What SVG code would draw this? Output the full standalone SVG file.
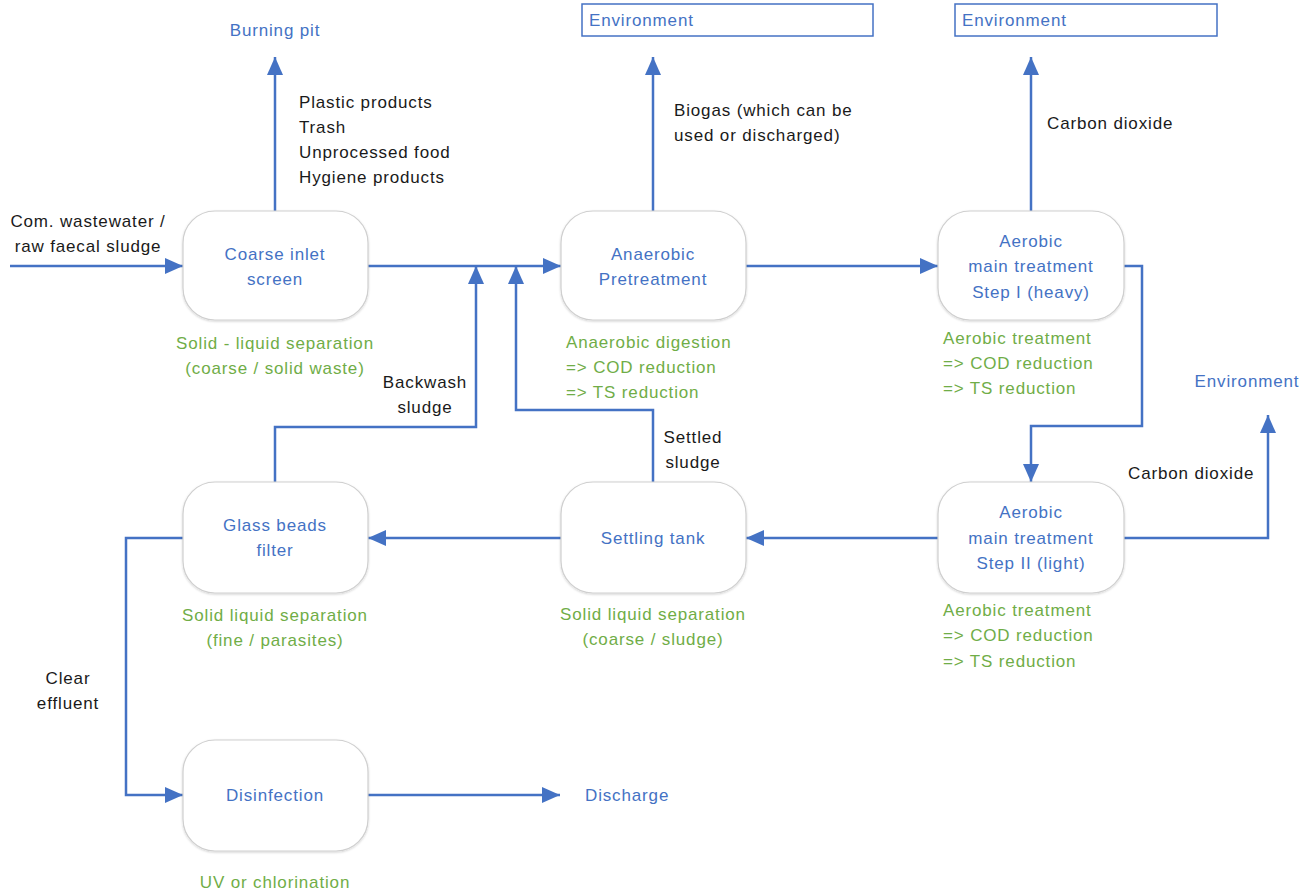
<svg xmlns="http://www.w3.org/2000/svg" width="1316" height="894" viewBox="0 0 1316 894">
<defs>
  <marker id="ah" markerWidth="18" markerHeight="16" viewBox="0 0 18 16" refX="18" refY="8" orient="auto" markerUnits="userSpaceOnUse">
    <path d="M0,0 L18,8 L0,16 Z" fill="#4472C4"/>
  </marker>
  <filter id="sh" x="-10%" y="-10%" width="120%" height="120%">
    <feDropShadow dx="0" dy="1" stdDeviation="1.2" flood-color="#000" flood-opacity="0.18"/>
  </filter>
</defs>
<style>
  text { font-family: "Liberation Sans", Arial, sans-serif; font-size: 17px; letter-spacing: 0.85px; dominant-baseline: central; }
  .box { fill: #fff; stroke: #cfcfcf; stroke-width: 1.2; filter: url(#sh); }
  .blue { fill: #4472C4; }
  .green { fill: #70AD47; }
  .black { fill: #1a1a1a; }
  .c { text-anchor: middle; }
  .conn path { fill: none; stroke: #4472C4; stroke-width: 2.5; marker-end: url(#ah); }
  .env { fill: #fff; stroke: #4472C4; stroke-width: 1.5; }
</style>
<rect width="1316" height="894" fill="#fff"/>

<g id="connectors" class="conn">
  <path d="M10,266 H183"/>
  <path d="M275,211 V57"/>
  <path d="M368,266 H561"/>
  <path d="M275,482 V427 H476 V266"/>
  <path d="M653,482 V410 H516 V266"/>
  <path d="M653,211 V57"/>
  <path d="M746,266 H938"/>
  <path d="M1031,211 V57"/>
  <path d="M1124,266 H1142 V426 H1031 V482"/>
  <path d="M1124,538 H1268 V415"/>
  <path d="M938,538 H746"/>
  <path d="M561,538 H368"/>
  <path d="M183,538 H126 V795 H183"/>
  <path d="M368,795 H560"/>
</g>

<g id="input-label">
  <text class="black c" x="88" y="221">Com. wastewater /</text>
  <text class="black c" x="88" y="246">raw faecal sludge</text>
</g>

<g id="burning-pit">
  <text class="blue c" x="275" y="30">Burning pit</text>
</g>
<g id="solid-waste-label">
  <text class="black" x="299" y="102">Plastic products</text>
  <text class="black" x="299" y="127">Trash</text>
  <text class="black" x="299" y="152">Unprocessed food</text>
  <text class="black" x="299" y="177">Hygiene products</text>
</g>

<g id="env1">
  <rect class="env" x="582" y="4" width="291" height="32"/>
  <text class="blue" x="589" y="20">Environment</text>
</g>
<g id="env2">
  <rect class="env" x="955" y="4" width="262" height="32"/>
  <text class="blue" x="962" y="20">Environment</text>
</g>
<g id="env3">
  <text class="blue c" x="1247" y="381">Environment</text>
</g>

<g id="biogas-label">
  <text class="black" x="674" y="110">Biogas (which can be</text>
  <text class="black" x="674" y="135">used or discharged)</text>
</g>
<g id="co2-label-1">
  <text class="black" x="1047" y="123">Carbon dioxide</text>
</g>
<g id="co2-label-2">
  <text class="black" x="1128" y="473">Carbon dioxide</text>
</g>
<g id="backwash-label">
  <text class="black c" x="425" y="382">Backwash</text>
  <text class="black c" x="425" y="407">sludge</text>
</g>
<g id="settled-label">
  <text class="black c" x="693" y="437">Settled</text>
  <text class="black c" x="693" y="462">sludge</text>
</g>
<g id="clear-label">
  <text class="black c" x="68" y="678">Clear</text>
  <text class="black c" x="68" y="703">effluent</text>
</g>

<g id="coarse-inlet-screen">
  <rect class="box" x="183" y="211" width="185" height="109" rx="32"/>
  <text class="blue c" x="275" y="254">Coarse inlet</text>
  <text class="blue c" x="275" y="279">screen</text>
  <text class="green c" x="275" y="343">Solid - liquid separation</text>
  <text class="green c" x="275" y="368">(coarse / solid waste)</text>
</g>

<g id="anaerobic-pretreatment">
  <rect class="box" x="561" y="211" width="185" height="109" rx="32"/>
  <text class="blue c" x="653" y="254">Anaerobic</text>
  <text class="blue c" x="653" y="279">Pretreatment</text>
  <text class="green" x="566" y="342">Anaerobic digestion</text>
  <text class="green" x="566" y="367">=&gt; COD reduction</text>
  <text class="green" x="566" y="392">=&gt; TS reduction</text>
</g>

<g id="aerobic-step1">
  <rect class="box" x="938" y="211" width="186" height="109" rx="32"/>
  <text class="blue c" x="1031" y="241">Aerobic</text>
  <text class="blue c" x="1031" y="266">main treatment</text>
  <text class="blue c" x="1031" y="292">Step I (heavy)</text>
  <text class="green" x="943" y="338">Aerobic treatment</text>
  <text class="green" x="943" y="363">=&gt; COD reduction</text>
  <text class="green" x="943" y="388">=&gt; TS reduction</text>
</g>

<g id="glass-beads-filter">
  <rect class="box" x="183" y="482" width="185" height="111" rx="32"/>
  <text class="blue c" x="275" y="525">Glass beads</text>
  <text class="blue c" x="275" y="550">filter</text>
  <text class="green c" x="275" y="615">Solid liquid separation</text>
  <text class="green c" x="275" y="640">(fine / parasites)</text>
</g>

<g id="settling-tank">
  <rect class="box" x="561" y="482" width="185" height="111" rx="32"/>
  <text class="blue c" x="653" y="538">Settling tank</text>
  <text class="green c" x="653" y="614">Solid liquid separation</text>
  <text class="green c" x="653" y="639">(coarse / sludge)</text>
</g>

<g id="aerobic-step2">
  <rect class="box" x="938" y="482" width="186" height="111" rx="32"/>
  <text class="blue c" x="1031" y="512">Aerobic</text>
  <text class="blue c" x="1031" y="538">main treatment</text>
  <text class="blue c" x="1031" y="563">Step II (light)</text>
  <text class="green" x="943" y="610">Aerobic treatment</text>
  <text class="green" x="943" y="635">=&gt; COD reduction</text>
  <text class="green" x="943" y="661">=&gt; TS reduction</text>
</g>

<g id="disinfection">
  <rect class="box" x="183" y="740" width="185" height="111" rx="32"/>
  <text class="blue c" x="275" y="795">Disinfection</text>
  <text class="green c" x="275" y="882">UV or chlorination</text>
</g>

<g id="discharge">
  <text class="blue" x="585" y="795">Discharge</text>
</g>
</svg>
